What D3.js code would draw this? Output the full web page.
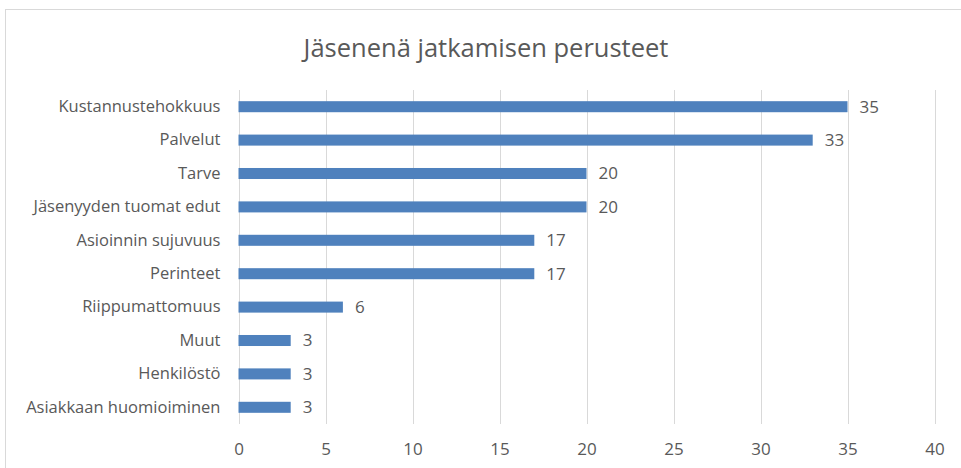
<!DOCTYPE html>
<html>
<head>
<meta charset="utf-8">
<script src="https://cdn.jsdelivr.net/npm/d3@7"></script>
<style>
    body { margin: 0; background: #fff; }
    text { font-family: "Open Sans", "Liberation Sans", sans-serif; fill: #595959; }
</style>
</head>
<body>
<div id="chart"></div>
<script>
(function()
{
    const categories = ["Kustannustehokkuus", "Palvelut", "Tarve", "Jäsenyyden tuomat edut",
        "Asioinnin sujuvuus", "Perinteet", "Riippumattomuus", "Muut", "Henkilöstö",
        "Asiakkaan huomioiminen"];
    const values = [35, 33, 20, 20, 17, 17, 6, 3, 3, 3];
    const ticks = [0, 5, 10, 15, 20, 25, 30, 35, 40];
    const title = "Jäsenenä jatkamisen perusteet";

    const W = 961, H = 468;
    const left = 238.5, right = 934.5, top = 90, bottom = 424;

    var svg = d3.select("#chart").append("svg")
        .attr("width", W)
        .attr("height", H);

    // chart frame
    svg.append("rect")
        .attr("x", 5.5).attr("y", 9.5)
        .attr("width", 970).attr("height", 470)
        .attr("fill", "white")
        .attr("stroke", "#d9d9d9");

    svg.append("text")
        .attr("x", 486).attr("y", 57)
        .attr("text-anchor", "middle")
        .style("font-size", "25.5px")
        .text(title);

    var x = d3.scaleLinear().domain([0, 40]).range([left, right]);
    var y = d3.scaleBand().domain(categories).range([top, bottom]).paddingInner(0.67).paddingOuter(0.335);

    // gridlines
    svg.append("g").selectAll("line")
        .data(ticks)
        .enter()
        .append("line")
        .attr("x1", function(d) { return Math.round(x(d)) + 0.5; })
        .attr("x2", function(d) { return Math.round(x(d)) + 0.5; })
        .attr("y1", top)
        .attr("y2", bottom)
        .attr("stroke", "#d9d9d9");

    var xAxis = svg.append("g")
        .attr("transform", "translate(0," + bottom + ")")
        .call(d3.axisBottom(x).tickValues(ticks).tickSize(0).tickPadding(19));
    xAxis.select(".domain").remove();
    xAxis.selectAll("text").style("font-size", "17px").attr("fill", "#595959");

    var yAxis = svg.append("g")
        .attr("transform", "translate(" + (left - 18) + ",0)")
        .call(d3.axisLeft(y).tickSize(0).tickPadding(0));
    yAxis.select(".domain").remove();
    yAxis.selectAll("text").style("font-size", "16.5px").attr("fill", "#595959");

    svg.append("g").selectAll("rect")
        .data(values)
        .enter()
        .append("rect")
        .attr("x", x(0))
        .attr("y", function(d, i) { return y(categories[i]); })
        .attr("width", function(d) { return x(d) - x(0); })
        .attr("height", y.bandwidth())
        .attr("fill", "#4f81bd");

    svg.append("g").selectAll("text")
        .data(values)
        .enter()
        .append("text")
        .attr("x", function(d) { return x(d) + 12; })
        .attr("y", function(d, i) { return y(categories[i]) + y.bandwidth() / 2; })
        .attr("dy", "0.35em")
        .style("font-size", "17px")
        .text(function(d) { return d; });
})();
</script>
</body>
</html>
